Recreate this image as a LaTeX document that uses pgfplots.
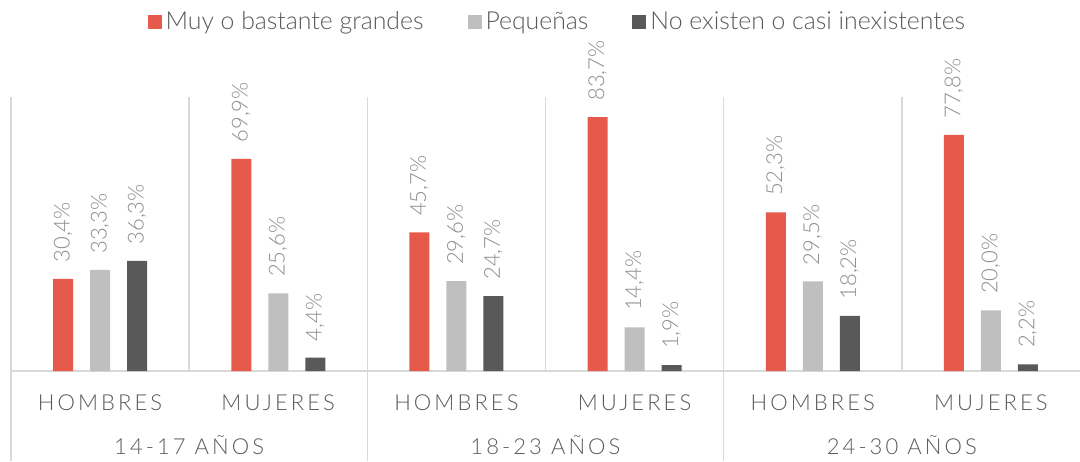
\documentclass[border=0pt]{standalone}
\usepackage{fontspec}
\setmainfont{Lato}[UprightFont={* Light}]
\usepackage{pgfplots}
\pgfplotsset{compat=1.18}
\definecolor{cred}{HTML}{E55A4B}
\definecolor{cgray}{HTML}{BFBFBF}
\definecolor{cdark}{HTML}{595959}
\definecolor{gridc}{HTML}{D9D9D9}
\definecolor{labc}{HTML}{595959}
\definecolor{valc}{HTML}{8C8C8C}
\newcommand{\spaced}{\fontsize{11}{13}\selectfont\addfontfeature{LetterSpace=14}}
\begin{document}
\begin{tikzpicture}
\begin{axis}[
  at={(5.5pt,0pt)}, anchor=south west,
  scale only axis, width=534.5pt, height=137pt,
  xmin=-0.5, xmax=5.5, ymin=0, ymax=90.3,
  ybar=8.5pt, bar width=10pt,
  axis line style={draw=none},
  major tick length=0pt,
  ytick=\empty,
  xtick={0,1,2,3,4,5},
  xticklabels={HOMBRES,MUJERES,HOMBRES,MUJERES,HOMBRES,MUJERES},
  xticklabel style={font=\spaced, text=labc, anchor=center, yshift=-16pt},
  clip=false,
  /pgf/number format/.cd, fixed, fixed zerofill, precision=1, use comma, assume math mode=true,
  /pgfplots/.cd,
  nodes near coords={\pgfmathprintnumber{\pgfplotspointmeta}\%},
  nodes near coords style={rotate=90, anchor=west, inner xsep=8pt, inner ysep=0pt, font=\fontsize{11}{11}\selectfont, text=valc},
  legend style={at={(0.512,1)}, anchor=center, yshift=37.5pt, draw=none, fill=none,
    font=\fontsize{12.4}{14}\selectfont, text=labc, legend columns=-1,
    /tikz/every even column/.append style={column sep=20pt}},
  legend cell align=left,
  legend image code/.code={\fill[#1] (0pt,-3.5pt) rectangle (7pt,3.5pt);},
]
\draw[gridc, line width=0.8pt] (axis cs:-0.5,0) -- (axis cs:5.5,0);
\draw[gridc, line width=0.8pt] (axis cs:-0.5,0) -- (axis cs:-0.5,90.3);
\draw[gridc, line width=0.8pt] (axis cs:0.5,0) -- (axis cs:0.5,90.3);
\draw[gridc, line width=0.8pt] (axis cs:1.5,0) -- (axis cs:1.5,90.3);
\draw[gridc, line width=0.8pt] (axis cs:2.5,0) -- (axis cs:2.5,90.3);
\draw[gridc, line width=0.8pt] (axis cs:3.5,0) -- (axis cs:3.5,90.3);
\draw[gridc, line width=0.8pt] (axis cs:4.5,0) -- (axis cs:4.5,90.3);
\draw[gridc, line width=0.8pt] (axis cs:-0.5,0) -- ++(0pt,-45pt);
\draw[gridc, line width=0.8pt] (axis cs:1.5,0) -- ++(0pt,-45pt);
\draw[gridc, line width=0.8pt] (axis cs:3.5,0) -- ++(0pt,-45pt);
\addplot[fill=cred, draw=none] coordinates {(0,30.4) (1,69.9) (2,45.7) (3,83.7) (4,52.3) (5,77.8)};
\addplot[fill=cgray, draw=none] coordinates {(0,33.3) (1,25.6) (2,29.6) (3,14.4) (4,29.5) (5,20.0)};
\addplot[fill=cdark, draw=none] coordinates {(0,36.3) (1,4.4) (2,24.7) (3,1.9) (4,18.2) (5,2.2)};
\legend{Muy o bastante grandes, Pequeñas, No existen o casi inexistentes}
\node[font=\spaced, text=labc] at (axis cs:0.5,0) [yshift=-37pt] {14-17 AÑOS};
\node[font=\spaced, text=labc] at (axis cs:2.5,0) [yshift=-37pt] {18-23 AÑOS};
\node[font=\spaced, text=labc] at (axis cs:4.5,0) [yshift=-37pt] {24-30 AÑOS};
\end{axis}
\pgfresetboundingbox
\path (0pt,-45pt) rectangle (540pt,185.5pt);
\end{tikzpicture}
\end{document}
